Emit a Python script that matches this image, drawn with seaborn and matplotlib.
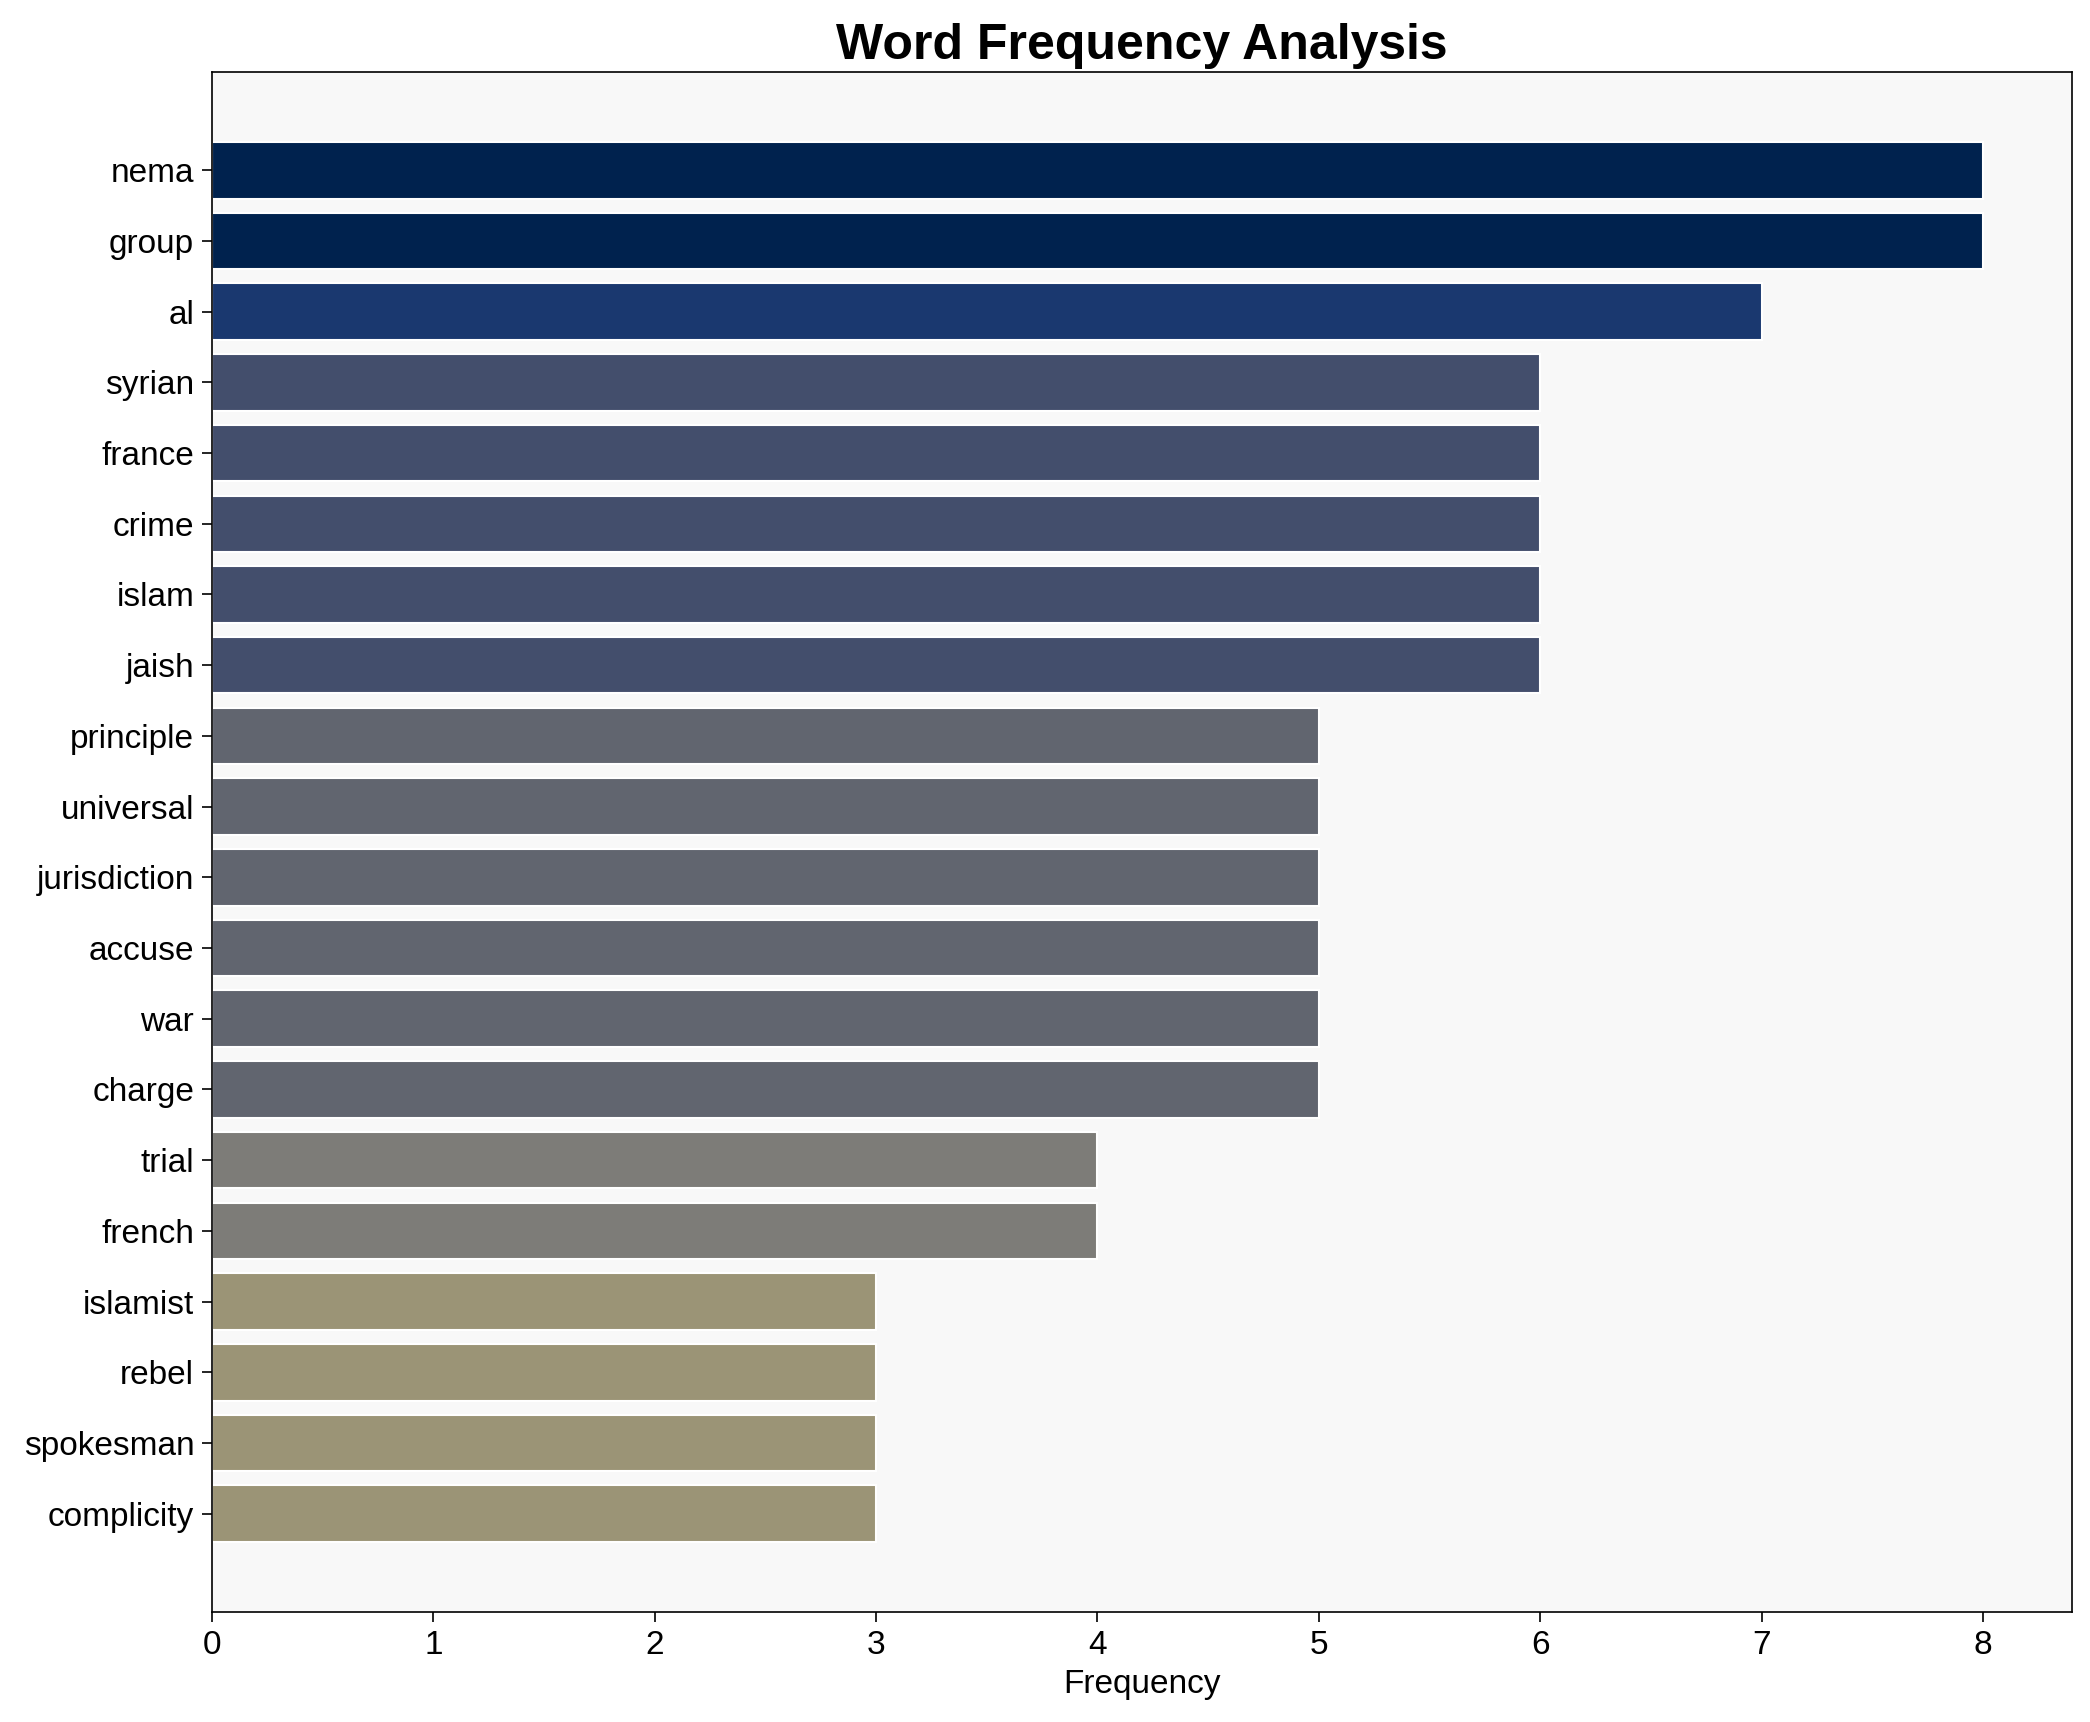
import matplotlib
matplotlib.use("Agg")
import matplotlib.pyplot as plt
import seaborn as sns
import numpy as np

words = ["nema", "group", "al", "syrian", "france", "crime", "islam", "jaish",
         "principle", "universal", "jurisdiction", "accuse", "war", "charge",
         "trial", "french", "islamist", "rebel", "spokesman", "complicity"]
counts = [8, 8, 7, 6, 6, 6, 6, 6, 5, 5, 5, 5, 5, 5, 4, 4, 3, 3, 3, 3]

sns.set_style("white")
plt.rcParams['font.family'] = ['Liberation Sans', 'DejaVu Sans']
plt.rcParams['text.color'] = 'black'
plt.rcParams['axes.labelcolor'] = 'black'
plt.rcParams['xtick.color'] = 'black'
plt.rcParams['ytick.color'] = 'black'

fig, ax = plt.subplots(figsize=(2090 / 150, 1722 / 150), dpi=150)
ax.set_facecolor("#f8f8f8")

# colour by frequency, darkest for the most frequent word
max_count = max(counts)
colors = [plt.cm.cividis((max_count - c) / max_count) for c in counts]

ax.barh(words, counts, color=colors, height=0.8)
ax.invert_yaxis()

ax.set_title("Word Frequency Analysis", fontsize=24, fontweight="bold")
ax.set_xlabel("Frequency", fontsize=16)
ax.tick_params(axis="both", labelsize=16, length=5, direction="out",
               left=True, bottom=True)

for spine in ax.spines.values():
    spine.set_visible(True)
    spine.set_color("black")

ax.grid(False)
fig.subplots_adjust(left=0.1014, right=0.9912, top=0.9582, bottom=0.0639)
fig.savefig("out.png", dpi=150)
